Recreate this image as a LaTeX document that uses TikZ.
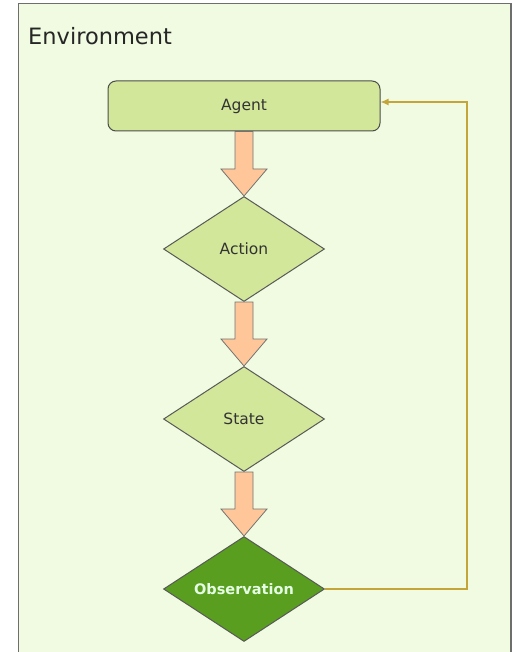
\documentclass[tikz,border=0pt]{standalone}
\usepackage{fontspec}
\setmainfont{DejaVu Sans}
\usetikzlibrary{shapes.geometric,calc,arrows.meta}

\definecolor{envbg}{HTML}{F0FBE1}
\definecolor{envline}{HTML}{6E6E6E}
\definecolor{lightgreen}{HTML}{D2E79A}
\definecolor{darkgreen}{HTML}{5A9E1F}
\definecolor{peach}{HTML}{FFC799}
\definecolor{gold}{HTML}{C4A53A}

\tikzset{
  agentbox/.style={draw=black!70, fill=lightgreen, rounded corners=8pt,
    minimum width=272pt, minimum height=50pt, line width=1pt, text=black!80,
    font=\fontsize{15.5}{18}\selectfont},
  decision/.style={diamond, aspect=1.53, draw=black!65, fill=lightgreen, line width=1pt,
    minimum width=161pt, minimum height=105pt, inner sep=0pt, text=black!80,
    font=\fontsize{15.5}{18}\selectfont},
  fatarrow/.style={draw=black!55, fill=peach, line width=0.8pt, line join=miter},
  feedback/.style={draw=gold, line width=1.2pt, -{Latex[length=8pt,width=7pt]}}
}

% thick block arrow from one node down to the next
\newcommand{\fatarrow}[2]{%
  \draw[fatarrow] let \p1=(#1.south), \p2=(#2.north) in
    (\x1-9pt,\y1) -- (\x1+9pt,\y1) -- (\x1+9pt,\y2+27pt) -- (\x1+23pt,\y2+27pt)
    -- (\x2,\y2) -- (\x1-23pt,\y2+27pt) -- (\x1-9pt,\y2+27pt) -- cycle;}

\begin{document}
\begin{tikzpicture}[x=1pt,y=-1pt]
\useasboundingbox (0,0) rectangle (514,652);
% environment frame
\fill[white] (0,0) rectangle (514,652);
\draw[envline, fill=envbg, line width=1.3pt] (18.5,3.5) rectangle (511,670);
\node[anchor=base west, inner sep=0pt, text=black!85, font=\fontsize{22.5}{26}\selectfont] (env) at (28,45) {Environment};

\node[agentbox] (agent) at (244,106) {Agent};
\node[decision] (action) at (244,249) {Action};
\node[decision] (state) at (244,419) {State};
\node[decision, fill=darkgreen, text=white!90!green, font=\fontsize{14.5}{17}\selectfont\bfseries] (obs) at (244,589) {Observation};

\fatarrow{agent}{action}
\fatarrow{action}{state}
\fatarrow{state}{obs}

\coordinate (turn) at (467,102);
\draw[feedback] (obs.east) -| (turn) -- (agent.east |- turn);
\end{tikzpicture}
\end{document}
